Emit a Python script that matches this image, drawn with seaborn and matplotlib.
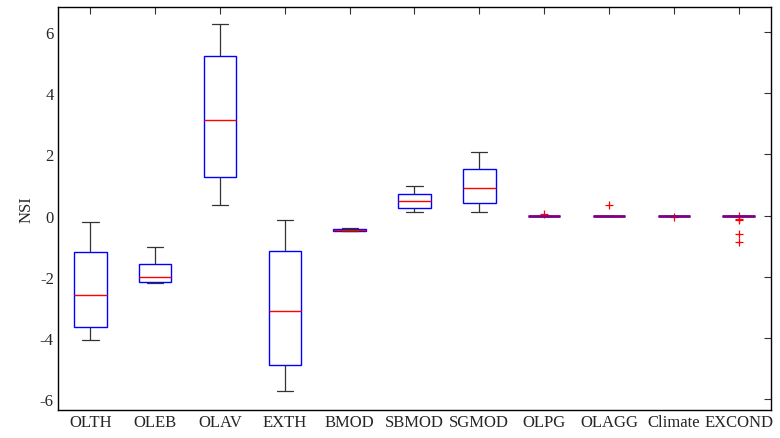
"""Boxplot of NSI per factor (MATLAB-like look)."""
import matplotlib
matplotlib.use("Agg")
import matplotlib.pyplot as plt
import seaborn as sns
import pandas as pd

# values per category (whisker low, q1, median, q3, whisker high, fliers)
olth = [-4.07, -3.64, -2.59, -1.20, -0.20]
oleb = [-2.22, -2.17, -2.00, -1.59, -1.03]
olav = [0.34, 1.27, 3.11, 5.23, 6.26]
exth = [-5.73, -4.89, -3.11, -1.15, -0.14]
bmod = [-0.50, -0.49, -0.48, -0.45, -0.40]
sbmod = [0.13, 0.25, 0.47, 0.72, 0.97]
sgmod = [0.11, 0.41, 0.90, 1.51, 2.07]
olpg = [0.0, 0.0, 0.0, 0.0, 0.0, 0.0, 0.0, 0.0, 0.06]
olagg = [0.0, 0.0, 0.0, 0.0, 0.0, 0.0, 0.0, 0.0, 0.34]
climate = [-0.05, 0.0, 0.0, 0.0, 0.0, 0.0, 0.0, 0.0, 0.0]
excond = [-0.87, -0.61, -0.16, -0.10, -0.03,
          0.0, 0.0, 0.0, 0.0, 0.0, 0.0, 0.0, 0.0,
          0.0, 0.0, 0.0, 0.0, 0.0, 0.0, 0.0, 0.0]

labels = ["OLTH", "OLEB", "OLAV", "EXTH", "BMOD", "SBMOD", "SGMOD",
          "OLPG", "OLAGG", "Climate", "EXCOND"]
series = [olth, oleb, olav, exth, bmod, sbmod, sgmod, olpg, olagg, climate, excond]


def make_frame():
    rows = {"factor": [], "NSI": []}
    for name, vals in zip(labels, series):
        rows["factor"] += [name] * len(vals)
        rows["NSI"] += list(vals)
    return pd.DataFrame(rows)


def plot(df):
    sns.set_style("white")
    plt.rcParams["font.family"] = ["Liberation Serif", "DejaVu Serif"]
    plt.rcParams["axes.unicode_minus"] = False

    fig = plt.figure(figsize=(7.8, 4.39), dpi=100)
    ax = fig.add_axes([0.0744, 0.0638, 0.914, 0.918])

    sns.boxplot(
        data=df, x="factor", y="NSI", order=labels, ax=ax,
        width=0.5, whis=1.5,
        boxprops=dict(facecolor="white", edgecolor="blue", linewidth=1.0),
        medianprops=dict(color="red", linewidth=1.0),
        whiskerprops=dict(color="#333333", linewidth=0.9),
        capprops=dict(color="#333333", linewidth=0.9),
        flierprops=dict(marker="+", markeredgecolor="red", markerfacecolor="red",
                        markersize=6, markeredgewidth=0.9, linestyle="none"),
    )

    # collapsed boxes look purple in the original (blue edge under red median)
    cont = ax.containers[0]
    for vals, med in zip(series, cont.medians):
        s = sorted(vals)
        if s[len(s) // 4] == s[3 * len(s) // 4]:
            med.set_color("purple")
            med.set_linewidth(2.0)

    ax.set_xlim(-0.5, 10.5)
    ax.set_ylim(-6.36, 6.82)
    ax.set_yticks([-6, -4, -2, 0, 2, 4, 6])
    ax.set_xlabel("")
    ax.set_ylabel("NSI", fontsize=12)
    ax.tick_params(direction="in", length=5, width=0.8, top=True, right=True,
                   labelsize=12, pad=3, color="#333333")
    for sp in ax.spines.values():
        sp.set_visible(True)
        sp.set_color("black")
        sp.set_linewidth(1.0)

    fig.savefig("out.png", dpi=100)


def main():
    plot(make_frame())


if __name__ == "__main__":
    main()
